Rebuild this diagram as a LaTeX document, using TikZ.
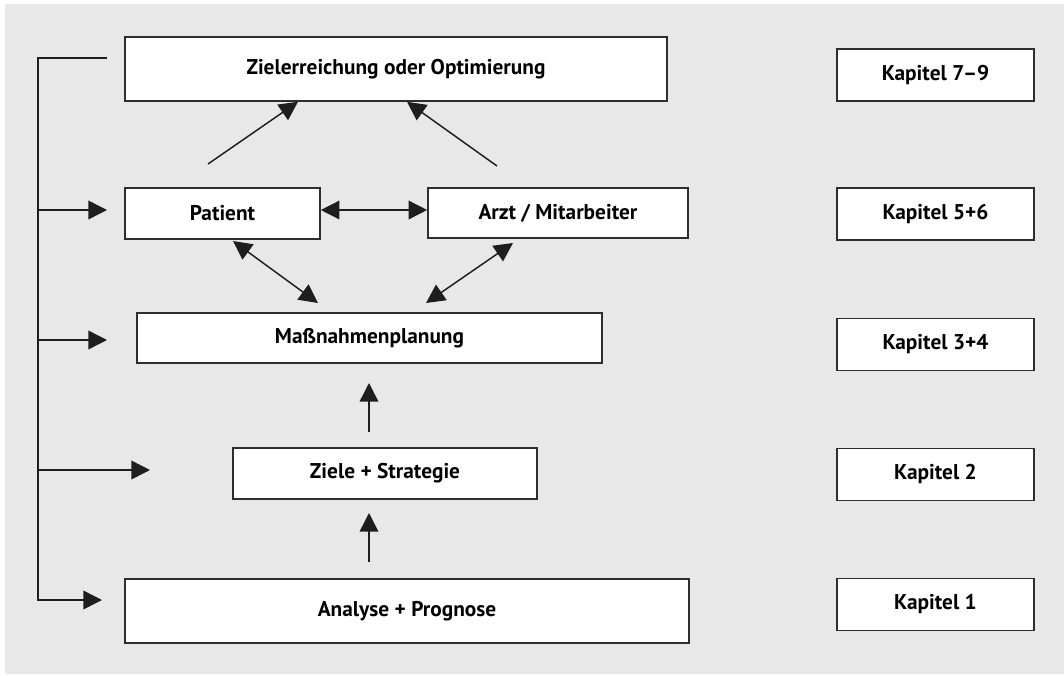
\documentclass[tikz,border=0pt]{standalone}
\usepackage{fontspec}
\setsansfont{PT Sans}
\usetikzlibrary{arrows.meta,positioning,calc}
\definecolor{panelgray}{HTML}{E8E8E8}
\definecolor{boxborder}{HTML}{2E2E2E}
\definecolor{arrowink}{HTML}{1E1E1E}

\begin{document}
\begin{tikzpicture}[
  x=0.75pt, y=-0.75pt,
  font=\sffamily\bfseries\fontsize{16}{19}\selectfont,
  >={Triangle[length=14pt,width=14pt]},
  stagebox/.style={
    draw=boxborder,
    fill=white,
    line width=1.2pt,
    inner sep=0pt,
    align=center
  },
  chapterbox/.style={
    stagebox,
    minimum width=147.75pt,
    minimum height=39pt
  },
  flow/.style={
    draw=arrowink,
    line width=1.1pt
  }
]

  % Background panel
  \fill[white] (0,0) rectangle (1064,675);
  \fill[panelgray] (5,4) rectangle (1064,674);

  % Stages of the process
  \node[stagebox, minimum width=406.5pt, minimum height=48pt] (ziel) at (396,69) {Zielerreichung oder Optimierung};
  \node[stagebox, minimum width=146.25pt, minimum height=38.25pt] (patient) at (222.5,213.5) {Patient};
  \node[stagebox, minimum width=195pt, minimum height=37.5pt] (arzt) at (558,213) {Arzt / Mitarbeiter};
  \node[stagebox, minimum width=348.75pt, minimum height=37.5pt] (massn) at (369.5,338) {Maßnahmenplanung};
  \node[stagebox, minimum width=228pt, minimum height=38.25pt] (strategie) at (385,473.5) {Ziele + Strategie};
  \node[stagebox, minimum width=423pt, minimum height=48pt] (analyse) at (407,611) {Analyse + Prognose};

  % Chapter column
  \node[chapterbox] (kap79) at (935.5,75) {Kapitel 7--9};
  \node[chapterbox] (kap56) at (935.5,214) {Kapitel 5+6};
  \node[chapterbox] (kap34) at (935.5,344.5) {Kapitel 3+4};
  \node[chapterbox] (kap2) at (935.5,474.5) {Kapitel 2};
  \node[chapterbox] (kap1) at (935.5,604.5) {Kapitel 1};

  % Free arrow ends
  \coordinate (fbtop) at (107,58);
  \coordinate (fbcorner) at (38,58);
  \coordinate (tippatient) at (107,210);
  \coordinate (tipmassn) at (107,340);
  \coordinate (tipstrategie) at (150,470);
  \coordinate (tipanalyse) at (102,600);
  \coordinate (patup) at (208,164);
  \coordinate (arztup) at (497,166);
  \coordinate (patdown) at (233,241);
  \coordinate (arztdown) at (513,243);
  \coordinate (massnleft) at (318,303);
  \coordinate (massnright) at (426,303);
  \coordinate (analyseup) at (369,562);
  \coordinate (strategieup) at (369,432);

  % Feedback loop on the left
  \draw[flow, ->] (fbtop) -- (fbcorner) |- (tipanalyse);
  \draw[flow, ->] (fbcorner |- tippatient) -- (tippatient);
  \draw[flow, ->] (fbcorner |- tipmassn) -- (tipmassn);
  \draw[flow, ->] (fbcorner |- tipstrategie) -- (tipstrategie);

  % Arrows between the stages
  \draw[flow, ->] (patup) -- (298,0 |- ziel.south);
  \draw[flow, ->] (arztup) -- (407,0 |- ziel.south);
  \draw[flow, <->] (patient.east |- 0,210) -- (arzt.west |- 0,210);
  \draw[flow, <->] (patdown) -- (massnleft);
  \draw[flow, <->] (arztdown) -- (massnright);
  \draw[flow, ->] (strategieup) -- (strategieup |- 0,383);
  \draw[flow, ->] (analyseup) -- (analyseup |- 0,513);

\end{tikzpicture}
\end{document}
